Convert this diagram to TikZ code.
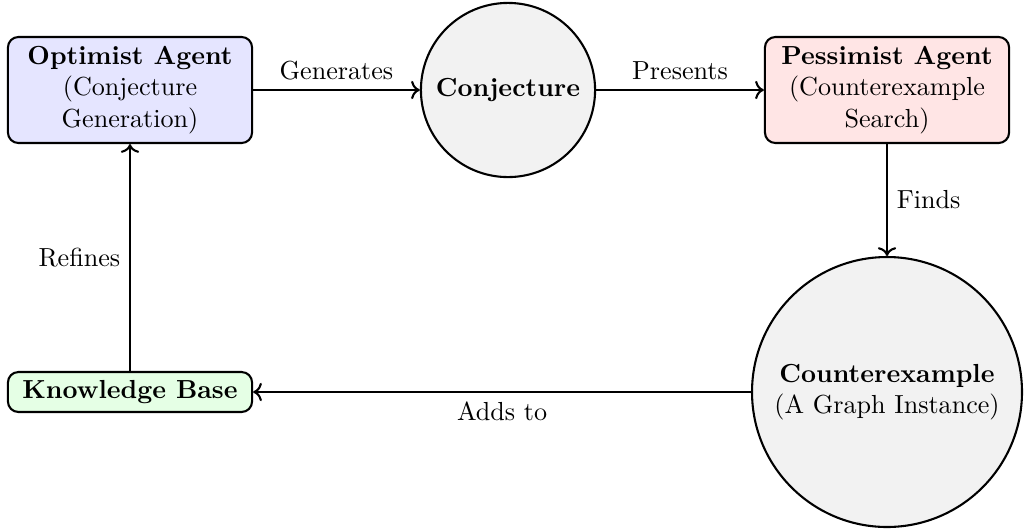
\documentclass[tikz,border=0pt]{standalone}
\usetikzlibrary{arrows.meta}
\begin{document}
\begin{tikzpicture}[x=0.383pt,y=-0.383pt,
  box/.style={draw,thick,rounded corners=4pt,align=center,inner sep=2pt},
  agentbox/.style={box,minimum width=93.5pt,minimum height=40.6pt},
  circ/.style={draw,thick,circle,fill=gray!10,align=center,inner sep=1pt},
  conn/.style={thick,->},
  lbl/.style={font=\normalsize}]
\useasboundingbox (0,0) rectangle (1024,529);
\node[agentbox,fill=blue!10] (opt) at (130,90) {\textbf{Optimist Agent}\\(Conjecture\\Generation)};
\node[circ,minimum size=66.7pt] (conj) at (508,90) {\textbf{Conjecture}};
\node[agentbox,fill=red!10] (pess) at (887,90) {\textbf{Pessimist Agent}\\(Counterexample\\Search)};
\node[circ,minimum size=103.4pt] (cex) at (887,392) {\textbf{Counterexample}\\(A Graph Instance)};
\node[box,fill=green!10,minimum width=93.5pt,minimum height=15.3pt] (kb) at (130,392) {\textbf{Knowledge Base}};
\draw[conn] (opt) -- node[above,lbl] {Generates} (conj);
\draw[conn] (conj) -- node[above,lbl] {Presents} (pess);
\draw[conn] (pess) -- node[right,lbl] {Finds} (cex);
\draw[conn] (cex) -- node[below,lbl] {Adds to} (kb);
\draw[conn] (kb) -- node[left,lbl] {Refines} (opt);
\end{tikzpicture}
\end{document}
